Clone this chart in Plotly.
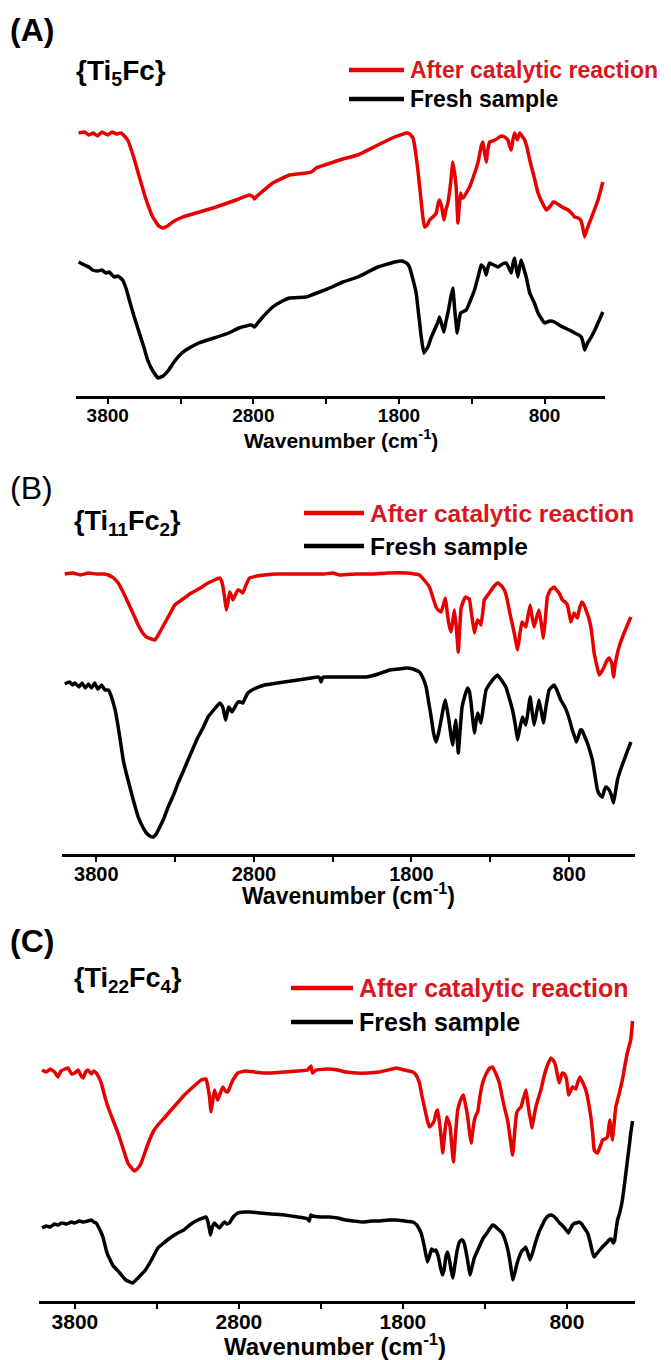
import plotly.graph_objects as go

# ---------------- DATA (wavenumber cm-1, transmittance a.u.) ----------------
wn_A_red = [4000,3960,3930,3900,3870,3840,3800,3770,3740,3710,3686,3663,3620,3583,3540,3491,3450,3423,3390,3354,3285,3170,3056,2919,2827,2800,2792,2775,2758,2667,2552,2438,2400,2369,2290,2186,2083,1945,1830,1770,1750,1725,1704,1690,1670,1636,1624,1605,1590,1560,1544,1530,1521,1505,1491,1478,1464,1445,1430,1418,1407,1395,1387,1377,1365,1354,1315,1280,1258,1235,1223,1212,1201,1190,1177,1140,1098,1075,1052,1040,1029,1018,1006,988,971,955,937,920,902,870,845,815,788,760,740,720,680,639,610,593,570,552,540,525,510,495,479,433,400]
t_A_red = [265,266,263,265,262,266,263,266,264,265,262,258,240,221,200,181,172,170,172,176,181,186,191,198,203,201,199,202,204,215,223,225,226,230,234,239,243,253,261,264,265,264,260,250,228,181,171,173,178,182,185,195,198,190,178,188,195,215,236,225,211,175,190,205,200,201,211,225,235,252,256,245,236,248,256,258,262,261,258,252,248,258,265,258,265,262,258,250,238,220,205,195,188,192,196,195,191,188,184,181,180,178,172,161,168,174,180,198,216]

wn_A_black = [4000,3960,3930,3904,3870,3840,3812,3790,3770,3755,3730,3698,3675,3652,3620,3583,3550,3526,3490,3454,3420,3381,3340,3291,3240,3175,3070,2969,2900,2821,2800,2792,2770,2735,2667,2600,2552,2438,2400,2346,2260,2186,2083,1945,1830,1780,1762,1740,1728,1710,1682,1647,1629,1615,1601,1580,1556,1535,1521,1505,1491,1478,1464,1445,1430,1418,1400,1390,1377,1338,1281,1250,1235,1215,1201,1190,1177,1150,1120,1090,1063,1045,1029,1016,1006,995,983,970,960,940,926,902,870,845,820,800,765,731,700,662,630,593,565,548,535,525,505,479,455,433,400]
t_A_black = [136,133,131,128,127,128,125,126,123,121,122,118,110,98,82,65,50,38,27,20,22,28,37,45,50,55,60,65,70,73,72,71,75,81,91,97,100,101,103,106,111,116,121,131,136,137,136,134,131,122,105,61,45,48,51,60,68,75,81,73,66,76,85,100,110,90,65,75,85,88,108,125,133,130,123,130,135,133,131,134,135,130,125,135,140,130,121,132,138,128,121,105,95,85,79,75,77,76,73,70,68,65,63,61,55,48,55,61,68,75,86]

wn_B_red = [4000,3950,3900,3850,3800,3750,3724,3690,3661,3630,3597,3565,3534,3505,3482,3450,3428,3400,3365,3330,3302,3250,3197,3140,3091,3050,3017,3005,2996,2985,2975,2965,2954,2944,2933,2918,2901,2885,2870,2850,2827,2780,2732,2650,2564,2450,2353,2300,2256,2150,2045,1950,1834,1780,1749,1720,1686,1665,1644,1630,1612,1598,1585,1575,1564,1549,1538,1528,1515,1503,1494,1485,1470,1458,1445,1433,1418,1401,1390,1380,1370,1359,1348,1338,1306,1280,1254,1235,1211,1195,1180,1165,1148,1127,1113,1099,1087,1074,1060,1047,1035,1022,1007,991,977,963,950,938,920,895,880,863,843,825,811,800,789,778,768,757,747,735,719,705,693,675,662,650,641,625,609,595,578,562,546,535,529,523,518,508,493,475,451,430,408]
t_B_red = [279,280,278,280,279,279,278,275,270,261,250,239,228,220,216,214,213,220,230,240,248,254,260,265,270,273,275,272,266,255,243,250,261,258,253,258,263,262,260,268,275,277,278,279,279,279,279,280,278,279,279,280,280,279,278,273,266,256,246,243,241,248,255,243,230,221,232,243,225,201,225,245,252,256,255,254,238,220,228,233,231,228,240,253,260,266,270,268,263,255,243,232,220,203,218,231,229,226,238,248,236,226,235,243,230,215,235,256,263,266,263,260,253,251,248,240,231,236,240,237,235,244,251,248,243,235,226,212,200,188,178,181,186,192,195,192,190,182,176,188,200,210,220,228,236]

wn_B_black = [4000,3970,3950,3935,3910,3890,3870,3850,3830,3810,3790,3766,3745,3724,3708,3692,3676,3661,3645,3629,3610,3587,3560,3534,3505,3482,3460,3439,3420,3397,3370,3344,3310,3281,3250,3218,3185,3154,3120,3091,3050,3017,3005,2996,2985,2979,2970,2960,2950,2939,2920,2901,2885,2870,2855,2838,2800,2732,2650,2564,2480,2395,2382,2374,2365,2353,2256,2160,2087,2010,1939,1880,1834,1790,1749,1730,1707,1690,1675,1660,1644,1628,1612,1598,1585,1572,1560,1550,1539,1530,1520,1512,1503,1493,1479,1460,1444,1433,1422,1410,1401,1390,1380,1370,1359,1345,1327,1300,1275,1254,1230,1201,1180,1159,1140,1127,1112,1096,1085,1074,1060,1047,1035,1022,1007,991,977,963,945,927,910,895,875,853,830,811,795,780,766,754,740,728,719,705,684,668,652,636,620,605,589,578,567,556,546,532,518,505,493,472,451,430,408]
t_B_black = [169,171,168,170,166,170,165,169,165,170,164,168,163,163,158,150,140,126,110,93,80,66,50,36,26,20,17,16,19,26,35,46,58,70,81,93,105,116,126,136,144,150,148,145,137,133,140,146,144,141,146,151,151,150,155,160,164,168,170,172,174,176,175,171,175,176,176,176,176,179,183,184,185,184,181,176,166,150,136,120,111,120,133,145,153,142,130,118,108,120,133,118,100,120,146,158,165,162,150,132,120,132,140,135,130,145,163,170,175,178,173,166,155,143,127,113,125,136,132,128,142,156,142,128,140,153,142,130,148,163,166,168,162,153,147,140,132,123,117,111,117,123,123,118,110,102,93,78,63,58,56,62,66,65,63,58,50,62,73,84,93,102,111]

wn_C_red = [4000,3975,3950,3923,3903,3885,3860,3842,3820,3801,3780,3765,3750,3735,3720,3700,3685,3670,3655,3639,3620,3598,3568,3537,3507,3477,3455,3436,3415,3396,3370,3345,3320,3294,3250,3213,3170,3132,3080,3030,3000,2990,2979,2970,2960,2949,2939,2929,2913,2898,2883,2868,2850,2837,2807,2760,2705,2650,2604,2520,2442,2381,2361,2351,2330,2259,2198,2150,2085,2010,1943,1890,1841,1790,1740,1720,1699,1685,1669,1650,1638,1620,1608,1598,1588,1577,1567,1557,1545,1533,1522,1512,1502,1492,1480,1466,1448,1431,1418,1405,1395,1384,1374,1364,1354,1344,1330,1314,1290,1270,1253,1235,1212,1197,1182,1162,1148,1131,1119,1107,1093,1080,1065,1050,1040,1030,1020,1013,1000,989,974,959,939,918,898,880,867,857,847,837,827,815,803,796,790,778,766,756,746,735,721,705,685,670,654,643,634,625,614,600,583,568,553,546,539,531,523,512,502,482,462,447,432,411,400]
t_C_red = [231,229,232,229,224,230,232,233,227,228,231,226,223,229,231,227,230,228,224,218,206,194,181,168,153,138,133,130,133,138,150,161,170,176,184,191,199,206,214,221,222,215,204,189,200,211,206,201,208,214,210,209,216,221,228,230,229,228,228,229,230,231,235,228,231,232,231,229,228,228,229,231,233,231,229,226,218,206,194,180,174,177,181,188,191,178,164,148,168,184,180,174,155,139,165,191,201,206,196,184,170,158,170,181,186,189,205,218,228,233,234,228,218,206,194,181,165,146,168,188,192,194,203,211,200,188,180,173,185,194,203,211,225,236,243,240,234,225,218,224,228,227,222,214,206,210,214,213,212,218,224,219,211,200,184,168,151,149,148,153,161,162,164,172,181,170,161,178,194,207,221,235,248,261,280]

wn_C_black = [4000,3975,3950,3925,3903,3880,3850,3822,3800,3775,3750,3720,3700,3685,3670,3650,3629,3604,3570,3526,3490,3449,3410,3370,3330,3294,3266,3220,3172,3136,3100,3051,3000,2990,2980,2973,2962,2949,2933,2918,2900,2888,2873,2858,2835,2807,2770,2726,2670,2604,2520,2442,2400,2380,2371,2362,2351,2300,2247,2198,2150,2100,2045,1990,1941,1890,1841,1790,1740,1715,1689,1670,1651,1640,1625,1610,1599,1585,1570,1559,1548,1538,1527,1515,1505,1495,1485,1470,1455,1444,1437,1425,1417,1405,1391,1380,1365,1352,1330,1310,1287,1268,1253,1240,1220,1195,1175,1156,1143,1130,1118,1105,1091,1075,1062,1052,1038,1025,1010,998,987,965,950,935,915,896,875,860,844,825,810,800,792,780,766,750,740,727,710,690,674,660,646,635,620,600,584,565,544,530,518,510,500,490,482,470,462,445,431,420,411,400]
t_C_black = [73,75,74,77,76,78,77,79,78,80,79,80,81,79,78,72,64,48,36,28,21,18,24,31,42,53,57,63,68,71,76,81,84,80,72,66,74,78,75,73,77,79,77,78,84,88,89,89,88,87,86,84,83,82,80,86,85,84,84,83,81,80,79,80,80,81,81,80,79,76,68,55,39,44,52,50,51,45,33,26,32,44,49,40,30,23,34,50,59,61,61,57,51,40,26,33,43,48,56,63,68,73,76,75,72,68,60,48,35,21,28,37,44,50,52,54,48,41,48,55,61,71,76,81,85,86,84,81,78,75,72,70,68,72,76,78,78,79,77,72,68,60,50,44,47,51,54,57,61,62,58,60,72,82,86,94,101,122,141,155,168,180]

major_ticks = 1000      # labelled ticks every 1000 cm-1 (3800, 2800, 1800, 800)
minor_ticks = 500       # unlabelled ticks half-way

panel_letters = ["(A)", "(B)", "(C)"]
sample_names = ["{Ti<sub>5</sub>Fc}", "{Ti<sub>11</sub>Fc<sub>2</sub>}", "{Ti<sub>22</sub>Fc<sub>4</sub>}"]
legend_names = ["After catalytic reaction", "Fresh sample"]
x_title = "Wavenumber (cm<sup>-1</sup>)"

RED = "#e60000"
RED_TXT = "#d9161c"
BLACK = "#000000"
FONT = "Liberation Sans"

W, H = 671, 1360

def py(p):  # pixel row -> paper y
    return 1 - p / H

def px(p):  # pixel column -> paper x
    return p / W

# panel layout (pixel rows/columns of the frame, font sizes)
panels = [
    dict(xd=(75.7, 605.0), bottom=396, ref=398, top=118, tick=19, title=21, label=32, name=28, leg=23,
         letter_y=30, name_x=74, name_y=72, leg_x0=349, leg_x1=404, leg_y=(70, 99), title_y=439, title_x=341,
         letter_bold=True, red=(wn_A_red, t_A_red), black=(wn_A_black, t_A_black)),
    dict(xd=(61.6, 634.5), bottom=854, ref=853, top=559, tick=20, title=23, label=32, name=27, leg=24.5,
         letter_y=488, name_x=72, name_y=523, leg_x0=304, leg_x1=364, leg_y=(513, 546), title_y=894, title_x=348,
         letter_bold=False, red=(wn_B_red, t_B_red), black=(wn_B_black, t_B_black)),
    dict(xd=(38.8, 635.0), bottom=1301, ref=1301, top=1015, tick=21, title=24, label=32, name=27, leg=25,
         letter_y=941, name_x=72, name_y=980, leg_x0=291, leg_x1=353, leg_y=(988, 1022), title_y=1345, title_x=335,
         letter_bold=True, red=(wn_C_red, t_C_red), black=(wn_C_black, t_C_black)),
]

fig = go.Figure()
annotations = []
shapes = []

for i, p in enumerate(panels):
    sfx = "" if i == 0 else str(i + 1)
    xa, ya = "x" + sfx, "y" + sfx
    for (wn, tv), color in ((p["black"], BLACK), (p["red"], RED)):
        fig.add_trace(go.Scatter(x=wn, y=tv, mode="lines", xaxis=xa, yaxis=ya,
                                 line=dict(color=color, width=3.5, shape="spline", smoothing=0.3),
                                 showlegend=False, hoverinfo="skip"))
    fig.layout["xaxis" + sfx] = dict(
        domain=[px(p["xd"][0]), px(p["xd"][1])], range=[4020, 385], anchor=ya,
        showline=True, linecolor="black", linewidth=2.5, showgrid=False, zeroline=False,
        ticks="outside", ticklen=5, tickwidth=2, tickcolor="black",
        tickmode="linear", tick0=800, dtick=major_ticks, ticklabelstandoff=-5,
        minor=dict(tickmode="linear", tick0=800, dtick=minor_ticks, ticks="outside",
                   ticklen=5, tickwidth=2, tickcolor="black", showgrid=False),
        tickfont=dict(family=FONT, size=p["tick"], color="black", weight="bold"))
    fig.layout["yaxis" + sfx] = dict(
        domain=[py(p["bottom"]), py(p["top"])],
        range=[p["ref"] - p["bottom"], p["ref"] - p["top"]], anchor=xa,
        visible=False, showgrid=False, zeroline=False)

    letter = panel_letters[i] if not p["letter_bold"] else "<b>" + panel_letters[i] + "</b>"
    annotations.append(dict(text=letter, xref="paper", yref="paper", x=px(8), y=py(p["letter_y"]),
                            xanchor="left", yanchor="middle", showarrow=False,
                            font=dict(family=FONT, size=p["label"], color="black")))
    annotations.append(dict(text="<b>" + sample_names[i] + "</b>", xref="paper", yref="paper",
                            x=px(p["name_x"]), y=py(p["name_y"]), xanchor="left", yanchor="middle",
                            showarrow=False, font=dict(family=FONT, size=p["name"], color="black")))
    for name, color, tcolor, ly in ((legend_names[0], RED, RED_TXT, p["leg_y"][0]),
                                    (legend_names[1], BLACK, BLACK, p["leg_y"][1])):
        shapes.append(dict(type="line", xref="paper", yref="paper",
                           x0=px(p["leg_x0"]), x1=px(p["leg_x1"]), y0=py(ly), y1=py(ly),
                           line=dict(color=color, width=4.5)))
        annotations.append(dict(text="<b>" + name + "</b>", xref="paper", yref="paper",
                                x=px(p["leg_x1"] + 4), y=py(ly), xanchor="left", yanchor="middle",
                                showarrow=False, font=dict(family=FONT, size=p["leg"], color=tcolor)))
    annotations.append(dict(text="<b>" + x_title + "</b>", xref="paper", yref="paper",
                            x=px(p["title_x"]), y=py(p["title_y"]), xanchor="center", yanchor="middle",
                            showarrow=False, font=dict(family=FONT, size=p["title"], color="black")))

fig.update_layout(width=W, height=H, margin=dict(l=0, r=0, t=0, b=0),
                  paper_bgcolor="white", plot_bgcolor="white",
                  annotations=annotations, shapes=shapes, showlegend=False)

fig.write_html("out.html")
